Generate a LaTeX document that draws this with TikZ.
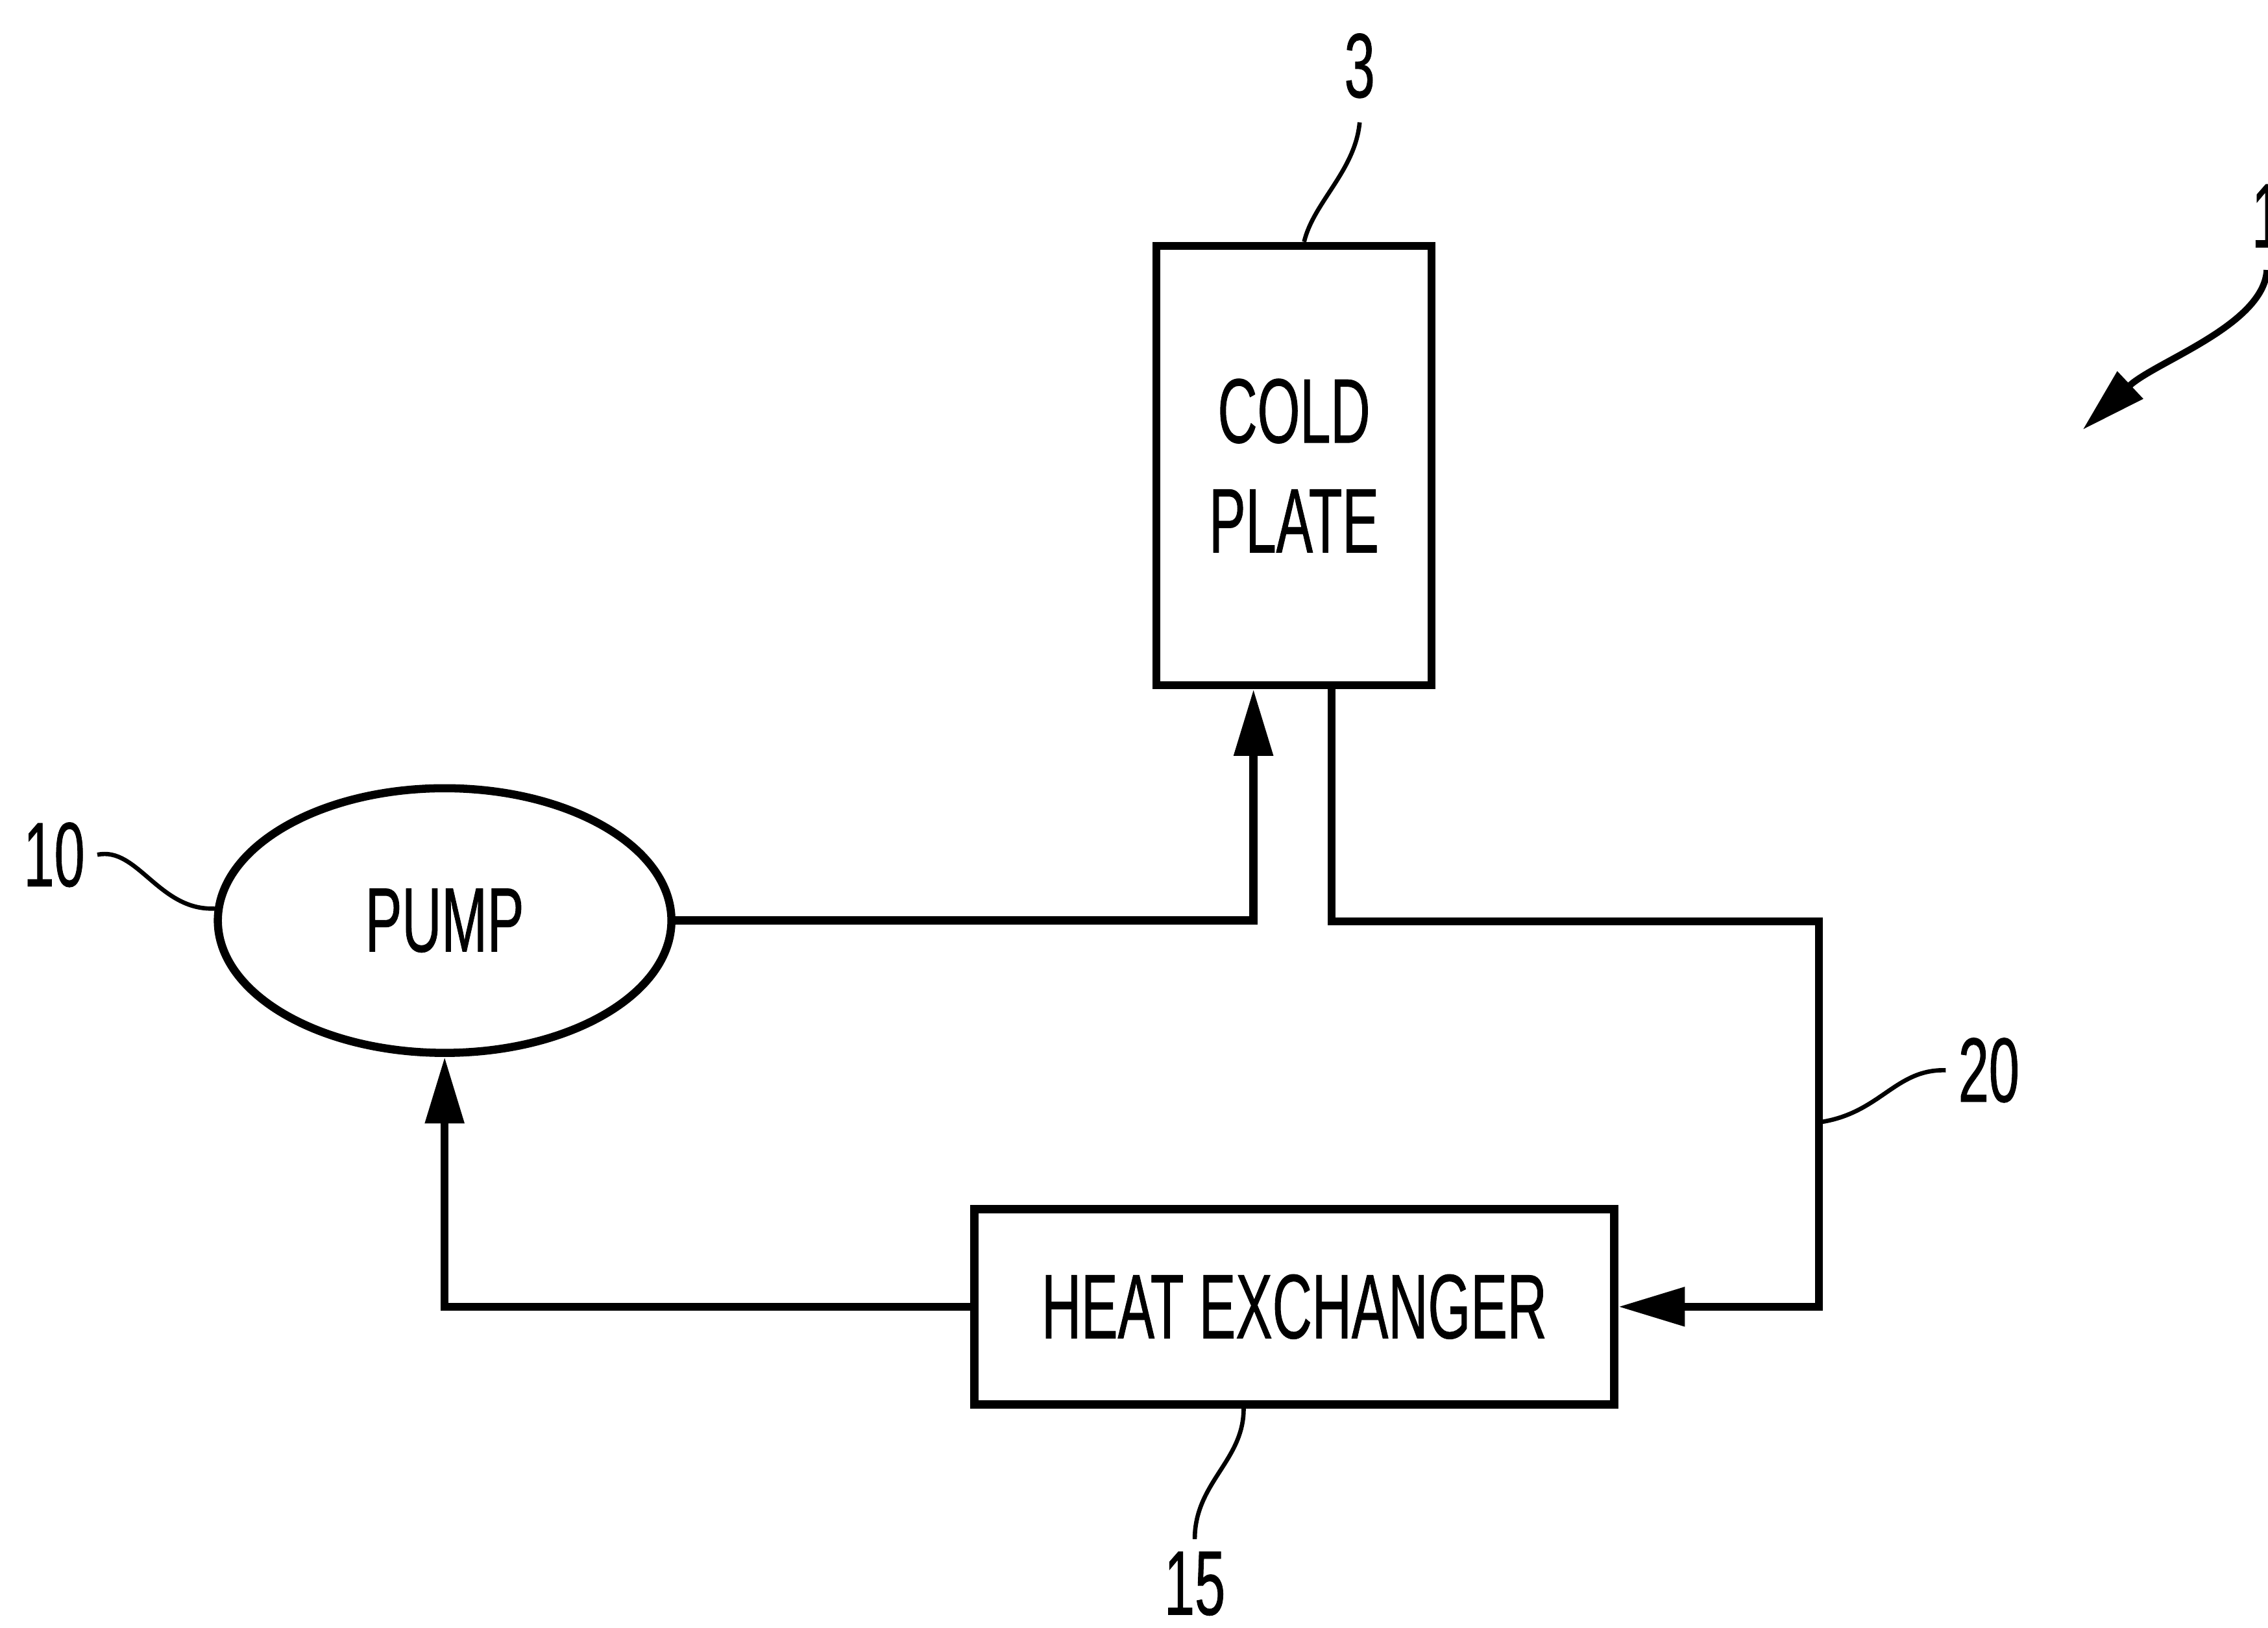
\documentclass[tikz,border=0pt]{standalone}
\usepackage{fontspec}
\setmainfont{Liberation Sans}[FakeStretch=0.6, FakeBold=0.6]
\usepackage{tikz}
\usetikzlibrary{arrows.meta, shapes.geometric, calc}
\newcommand{\figfont}{\fontsize{18pt}{21.6pt}\selectfont}

\begin{document}
\begin{tikzpicture}[
  x=0.1mm, y=-0.1mm,
  unitbox/.style={rectangle, draw, line width=1.6pt, inner sep=0pt,
                  align=center, font=\figfont},
  pumpshape/.style={ellipse, draw, line width=1.6pt, inner sep=0pt,
                    minimum width=31.36mm, minimum height=18.3mm,
                    font=\figfont},
  pipe/.style={line width=1.6pt},
  flow/.style={pipe, -{Triangle[length=4.6mm, width=2.6mm]}},
  leader/.style={line width=0.85pt},
  refnum/.style={font=\figfont, inner sep=0.8mm}
]
\useasboundingbox (0,0) rectangle (1568,1125.6);

% components
\node[unitbox, minimum width=19.02mm, minimum height=30.37mm] (cold) at (894.6,321.9) {COLD\\PLATE};
\node[pumpshape] (pump) at (307.4,636.5) {PUMP};
\node[unitbox, minimum width=44.25mm, minimum height=13.5mm] (hx) at (894.8,903.5) {HEAT EXCHANGER};

% reference numerals
\node[refnum] (n3)  at (940,45.5) {3};
\node[refnum] (n10) at (37.5,591) {10};
\node[refnum] (n15) at (826,1095) {15};
\node[refnum] (n20) at (1375,740) {20};
\node[refnum, anchor=base west, inner sep=0pt] (n1) at (1556,171) {1};

% coolant loop
\coordinate (turn) at (1257.6,637);
\coordinate (tap)  at (1257.6,776);
\draw[flow] (pump.east) -| ([xshift=-2.8mm]cold.south);
\draw[flow] ([xshift=2.6mm]cold.south) |- (turn) |- (hx.east);
\draw[flow] (hx.west) -| (pump.south);

% leaders
\draw[leader] ([xshift=0.7mm]cold.north) .. controls (908,140) and (937,118) .. ([yshift=-0.8mm]n3.south);
\draw[leader] (n10.east) .. controls (95,585) and (110,630) .. (pump.177);
\draw[leader] ([xshift=-3.5mm]hx.south) .. controls (860,1010) and (826,1025) .. (n15.north);
\draw[leader] (tap) .. controls (1300,770) and (1310,739) .. (n20.west);

% system arrow
\coordinate (sys) at (1440,297);
\draw[leader, line width=1.3pt, -{Triangle[length=4.5mm, width=2.5mm]}]
  ([yshift=-1.5mm]n1.south) .. controls (1565,225) and (1490,250) .. (sys);

\end{tikzpicture}
\end{document}
